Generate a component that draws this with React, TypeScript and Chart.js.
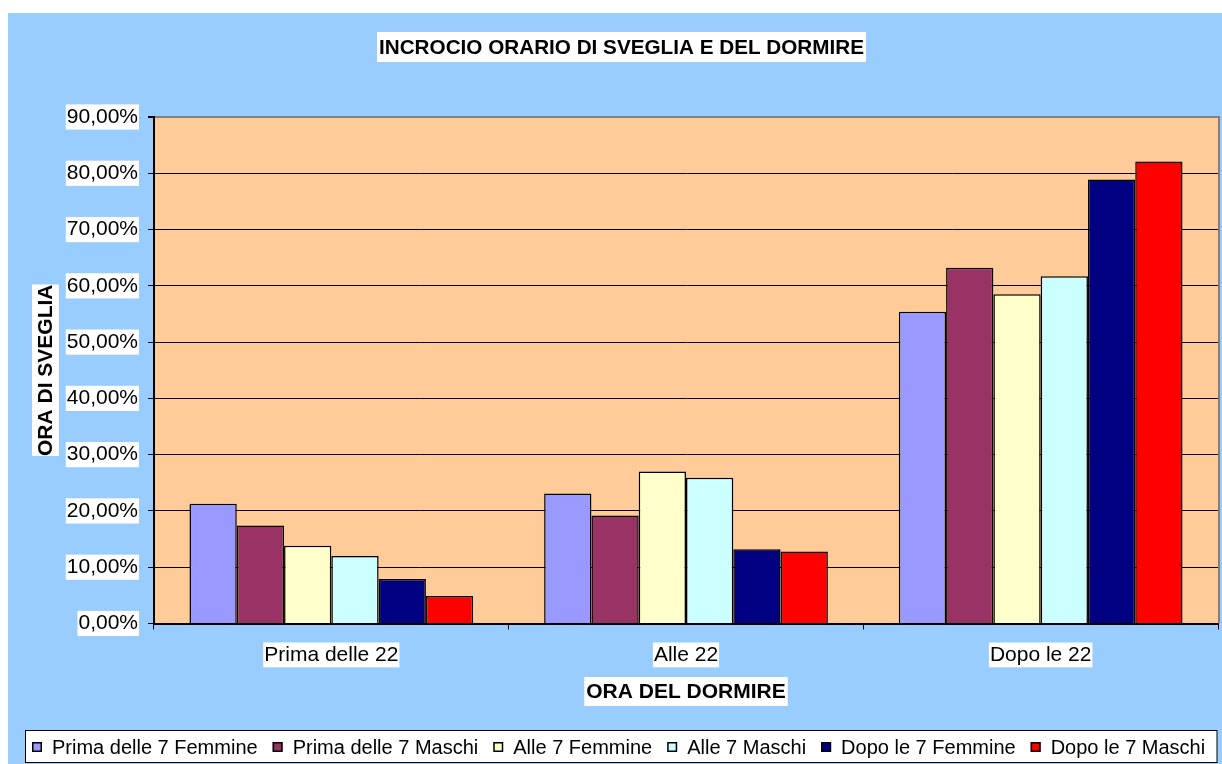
import React, { useEffect, useRef } from 'react';
import { Chart, registerables } from 'chart.js';

Chart.register(...registerables);

const categories = ['Prima delle 22', 'Alle 22', 'Dopo le 22'];
const seriesLabels = [
  'Prima delle 7 Femmine',
  'Prima delle 7 Maschi',
  'Alle 7 Femmine',
  'Alle 7 Maschi',
  'Dopo le 7 Femmine',
  'Dopo le 7 Maschi',
];
const primaFemmine = [21.3, 23.1, 55.4];
const primaMaschi = [17.4, 19.2, 63.2];
const alleFemmine = [13.8, 27.0, 58.5];
const alleMaschi = [12.0, 25.9, 61.7];
const dopoFemmine = [7.9, 13.2, 78.9];
const dopoMaschi = [4.9, 12.8, 82.1];
const seriesColors = ['#9999FF', '#993366', '#FFFFCC', '#CCFFFF', '#000080', '#FF0000'];
const yMin = 0;
const yMax = 90;
const yStep = 10;
const chartTitle = 'INCROCIO ORARIO DI SVEGLIA E DEL DORMIRE';
const xTitle = 'ORA DEL DORMIRE';
const yTitle = 'ORA DI SVEGLIA';

const FONT = "'Liberation Sans', Arial, sans-serif";

const seriesValues = [primaFemmine, primaMaschi, alleFemmine, alleMaschi, dopoFemmine, dopoMaschi];

function boxedText(
  ctx: CanvasRenderingContext2D,
  text: string,
  x: number,
  y: number,
  font: string,
  padX: number,
  boxH: number,
  rotate = false
) {
  ctx.save();
  ctx.font = font;
  const w = ctx.measureText(text).width;
  ctx.translate(x, y);
  if (rotate) ctx.rotate(-Math.PI / 2);
  ctx.fillStyle = '#FFFFFF';
  ctx.fillRect(-w / 2 - padX, -boxH / 2, w + padX * 2, boxH);
  ctx.fillStyle = '#000000';
  ctx.textAlign = 'center';
  ctx.textBaseline = 'middle';
  ctx.fillText(text, 0, 1);
  ctx.restore();
}

const decorPlugin = {
  id: 'decor',
  beforeDraw(chart: any) {
    const { ctx, chartArea: a } = chart;
    ctx.save();
    ctx.fillStyle = '#FFCC99';
    ctx.fillRect(a.left, a.top, a.right - a.left, a.bottom - a.top);
    ctx.restore();
  },
  afterDraw(chart: any) {
    const { ctx, chartArea: a } = chart;
    ctx.save();
    ctx.strokeStyle = '#808080';
    ctx.lineWidth = 2;
    ctx.beginPath();
    ctx.moveTo(a.right + 1, a.top - 1);
    ctx.lineTo(a.right + 1, a.bottom);
    ctx.stroke();
    ctx.restore();

    // Title
    boxedText(ctx, chartTitle, 613.5, 34, `bold 20.7px ${FONT}`, 2, 30);
    // Axis titles
    const cx = (a.left + a.right) / 2;
    const cy = (a.top + a.bottom) / 2;
    boxedText(ctx, xTitle, cx, 678.5, `bold 21px ${FONT}`, 2, 29);
    boxedText(ctx, yTitle, 37.5, cy, `bold 21px ${FONT}`, 0, 27, true);

    // Legend
    const lx = 17.5, ly = 717.5, lw = 1191.5, lh = 32;
    ctx.save();
    ctx.fillStyle = '#FFFFFF';
    ctx.fillRect(lx, ly, lw, lh);
    ctx.strokeStyle = '#000000';
    ctx.lineWidth = 1;
    ctx.strokeRect(lx, ly, lw, lh);
    ctx.font = `20px ${FONT}`;
    ctx.textBaseline = 'middle';
    ctx.textAlign = 'left';
    let x = 24;
    const my = Math.round(ly + lh / 2);
    chart.data.datasets.forEach((ds: any) => {
      ctx.fillStyle = ds.backgroundColor;
      ctx.fillRect(x, my - 5, 10, 10);
      ctx.strokeStyle = '#000000';
      ctx.lineWidth = 1.5;
      ctx.strokeRect(x + 0.75, my - 4.25, 8.5, 8.5);
      const tx = x + 20;
      ctx.fillStyle = '#000000';
      ctx.fillText(ds.label, tx, my + 1);
      x = tx + ctx.measureText(ds.label).width + 15;
    });
    ctx.restore();
  },
};

export default function App() {
  const ref = useRef<HTMLCanvasElement>(null);
  useEffect(() => {
    if (!ref.current) return;
    const chart = new Chart(ref.current, {
      type: 'bar',
      data: {
        labels: categories,
        datasets: seriesLabels.map((label, i) => ({
          label,
          data: seriesValues[i],
          backgroundColor: seriesColors[i],
          borderColor: '#000000',
          borderWidth: 1.5,
          barPercentage: 1,
          categoryPercentage: 0.8,
        })),
      },
      options: {
        responsive: false,
        maintainAspectRatio: false,
        animation: false,
        layout: { padding: { top: 104, right: 4, bottom: 96.5, left: 0 } },
        plugins: {
          legend: { display: false },
          title: { display: false },
          tooltip: { enabled: false },
        },
        scales: {
          x: {
            type: 'category',
            offset: true,
            afterFit: (s: any) => { s.height = 44; },
            grid: {
              display: true,
              drawOnChartArea: false,
              drawTicks: true,
              tickLength: 6,
              color: '#000000',
              offset: true,
            },
            border: { display: true, color: '#000000', width: 2 },
            ticks: {
              color: '#000000',
              font: { family: FONT, size: 21 },
              padding: 13,
              showLabelBackdrop: true,
              backdropColor: '#FFFFFF',
              backdropPadding: { x: 1, y: 0 },
            },
          },
          y: {
            min: yMin,
            max: yMax,
            afterFit: (s: any) => { s.width = 146; },
            grid: {
              color: (c: any) => (c.tick && c.tick.value === yMax ? '#808080' : '#000000'),
              lineWidth: (c: any) => (c.tick && c.tick.value === yMax ? 2 : 1),
              tickColor: '#000000',
              tickLength: 6,
              drawTicks: true,
            },
            border: { display: true, color: '#000000', width: 2 },
            ticks: {
              stepSize: yStep,
              color: '#000000',
              font: { family: FONT, size: 21 },
              padding: 10,
              showLabelBackdrop: true,
              backdropColor: '#FFFFFF',
              backdropPadding: { x: 1, y: 0 },
              callback: (v: any) => Number(v).toFixed(2).replace('.', ',') + '%',
            },
          },
        },
      },
      plugins: [decorPlugin],
    } as any);
    return () => chart.destroy();
  }, []);
  return (
    <div
      style={{
        position: 'fixed',
        left: 8,
        top: 13,
        width: 1214,
        height: 751,
        background: '#99CCFF',
      }}
    >
      <canvas ref={ref} width={1214} height={751} style={{ display: 'block' }} />
    </div>
  );
}
